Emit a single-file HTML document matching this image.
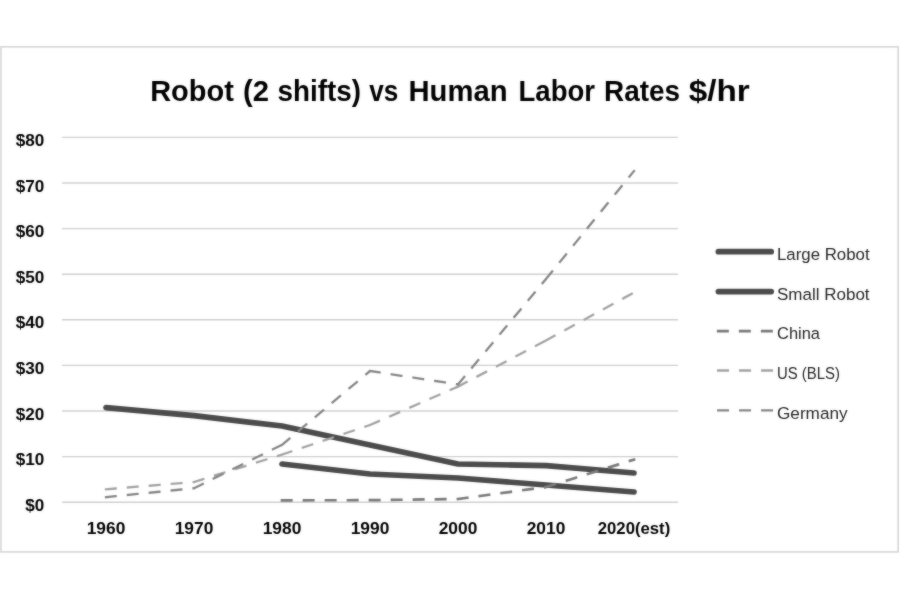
<!DOCTYPE html>
<html lang="en">
<head>
<meta charset="utf-8">
<title>Robot (2 shifts) vs Human Labor Rates $/hr</title>
<style>
  html, body { margin: 0; padding: 0; background: #ffffff; }
  body { width: 900px; height: 600px; overflow: hidden; position: relative;
         font-family: "Liberation Sans", sans-serif; }
  svg { position: absolute; left: 0; top: 0; display: block; }
  text { font-family: "Liberation Sans", sans-serif; }
  .title { font-weight: bold; font-size: 29.8px; fill: #000000; }
  .axis  { font-weight: bold; font-size: 16.4px; fill: #000000; }
  .leg   { font-size: 16.3px; fill: #262626; }
  .grid line { stroke: #d0d0d0; stroke-width: 1.4; }
  .solid { fill: none; stroke: #4b4b4b; stroke-width: 5.7; stroke-linecap: round; stroke-linejoin: round; }
  .dash  { fill: none; stroke-width: 2.3; stroke-dasharray: 9.7 12.3; stroke-linecap: square; stroke-linejoin: round; }
  .us { stroke: #a2a2a2; stroke-width: 2.3; }
  .ge { stroke: #868686; stroke-width: 2.3; }
  .ch { stroke: #7a7a7a; stroke-width: 2.7; stroke-dasharray: 9.3 12.7; }
</style>
</head>
<body>
<svg width="900" height="600" viewBox="0 0 900 600">
  <defs>
    <!-- gentle softening: mix of the sharp drawing and a 1px gaussian blur -->
    <filter id="soft" x="0" y="0" width="900" height="600" filterUnits="userSpaceOnUse" color-interpolation-filters="sRGB">
      <feGaussianBlur in="SourceGraphic" stdDeviation="1" result="b"/>
      <feComposite in="b" in2="SourceGraphic" operator="arithmetic" k1="0" k2="0.4" k3="0.6" k4="0"/>
    </filter>
  </defs>
  <g filter="url(#soft)">
  <rect x="0" y="0" width="900" height="600" fill="#ffffff"/>
  <!-- chart frame -->
  <rect x="0.9" y="46.8" width="897.3" height="505.1" fill="#ffffff" stroke="#d6d6d6" stroke-width="1.6"/>

  <!-- title -->
  <text class="title" y="100.8"><tspan x="150.2" textLength="83.6" lengthAdjust="spacingAndGlyphs">Robot</tspan> <tspan x="243" textLength="26" lengthAdjust="spacingAndGlyphs">(2</tspan> <tspan x="277.5" textLength="83.5" lengthAdjust="spacingAndGlyphs">shifts)</tspan> <tspan x="369.3" textLength="29" lengthAdjust="spacingAndGlyphs">vs</tspan> <tspan x="408.5" textLength="99" lengthAdjust="spacingAndGlyphs">Human</tspan> <tspan x="518.5" textLength="76.5" lengthAdjust="spacingAndGlyphs">Labor</tspan> <tspan x="604" textLength="76" lengthAdjust="spacingAndGlyphs">Rates</tspan> <tspan x="688.8" textLength="61" lengthAdjust="spacingAndGlyphs">$/hr</tspan></text>

  <!-- gridlines -->
  <g class="grid">
    <line x1="62" x2="678" y1="137.4" y2="137.4"/>
    <line x1="62" x2="678" y1="183.0" y2="183.0"/>
    <line x1="62" x2="678" y1="228.6" y2="228.6"/>
    <line x1="62" x2="678" y1="274.2" y2="274.2"/>
    <line x1="62" x2="678" y1="319.8" y2="319.8"/>
    <line x1="62" x2="678" y1="365.4" y2="365.4"/>
    <line x1="62" x2="678" y1="411.0" y2="411.0"/>
    <line x1="62" x2="678" y1="456.6" y2="456.6"/>
    <line x1="62" x2="678" y1="502.2" y2="502.2"/>
  </g>

  <!-- y axis labels -->
  <g class="axis" text-anchor="end">
    <text x="44.3" y="146.0" textLength="28.6" lengthAdjust="spacingAndGlyphs">$80</text>
    <text x="44.3" y="191.6" textLength="28.6" lengthAdjust="spacingAndGlyphs">$70</text>
    <text x="44.3" y="237.2" textLength="28.6" lengthAdjust="spacingAndGlyphs">$60</text>
    <text x="44.3" y="282.8" textLength="28.6" lengthAdjust="spacingAndGlyphs">$50</text>
    <text x="44.3" y="328.4" textLength="28.6" lengthAdjust="spacingAndGlyphs">$40</text>
    <text x="44.3" y="374.0" textLength="28.6" lengthAdjust="spacingAndGlyphs">$30</text>
    <text x="44.3" y="419.6" textLength="28.6" lengthAdjust="spacingAndGlyphs">$20</text>
    <text x="44.3" y="465.2" textLength="28.6" lengthAdjust="spacingAndGlyphs">$10</text>
    <text x="44.3" y="510.8" textLength="19" lengthAdjust="spacingAndGlyphs">$0</text>
  </g>

  <!-- x axis labels -->
  <g class="axis" text-anchor="middle">
    <text x="106" y="534" textLength="38.6" lengthAdjust="spacingAndGlyphs">1960</text>
    <text x="194" y="534" textLength="38.6" lengthAdjust="spacingAndGlyphs">1970</text>
    <text x="282" y="534" textLength="38.6" lengthAdjust="spacingAndGlyphs">1980</text>
    <text x="370" y="534" textLength="38.6" lengthAdjust="spacingAndGlyphs">1990</text>
    <text x="458" y="534" textLength="38.6" lengthAdjust="spacingAndGlyphs">2000</text>
    <text x="546" y="534" textLength="38.6" lengthAdjust="spacingAndGlyphs">2010</text>
    <text x="634" y="534" textLength="72.4" lengthAdjust="spacingAndGlyphs">2020(est)</text>
  </g>

  <!-- solid series -->
  <polyline class="solid" points="106,407.6 194,415.6 282,426 370,445 458,464 546,465.6 634,473"/>
  <polyline class="solid" points="282,464 370,474 458,478 546,485 634,492"/>

  <!-- dashed series (drawn above the solid ones) -->
  <path class="dash ch" d="M282,500.3 L370,500.2 M370,500.2 L458,499 M458,499 L546,487 M546,487 L634,459.6"/>
  <path class="dash us" d="M106,489.3 L194,482 M194,482 L282,454.6 M282,454.6 L370,425 M370,425 L458,386.6 M458,386.6 L546,340.5 M546,340.5 L634,292.5"/>
  <path class="dash ge" d="M106,497.2 L194,488.2 M194,488.2 L282,444.8 M282,444.8 L370,371 M370,371 L458,384.4 M458,384.4 L546,279 M546,279 L634,171"/>

  <!-- legend -->
  <g>
    <line class="solid" x1="718.4" x2="771.2" y1="251.7" y2="251.7"/>
    <line class="solid" x1="718.4" x2="771.2" y1="291.6" y2="291.6"/>
    <line class="dash ch" x1="718.2" x2="772" y1="331.2" y2="331.2"/>
    <line class="dash us" x1="718.2" x2="772" y1="370.5" y2="370.5"/>
    <line class="dash ge" x1="718.2" x2="772" y1="410.4" y2="410.4"/>
    <g class="leg">
      <text x="777" y="260" textLength="92.6" lengthAdjust="spacingAndGlyphs">Large Robot</text>
      <text x="777" y="299.6" textLength="92.6" lengthAdjust="spacingAndGlyphs">Small Robot</text>
      <text x="777" y="339.2" textLength="43" lengthAdjust="spacingAndGlyphs">China</text>
      <text x="777" y="379" textLength="63" lengthAdjust="spacingAndGlyphs">US (BLS)</text>
      <text x="777" y="418.6" textLength="70.6" lengthAdjust="spacingAndGlyphs">Germany</text>
    </g>
  </g>
  </g>
</svg>
</body>
</html>
